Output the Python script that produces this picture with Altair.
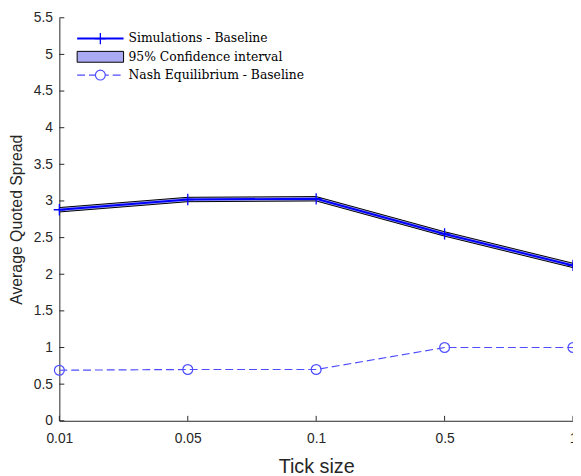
import altair as alt
import pandas as pd

ticks = ["0.01", "0.05", "0.1", "0.5", "1"]
sim_mean = [2.88, 3.02, 3.03, 2.55, 2.12]
sim_lower = [2.85, 2.99, 3.00, 2.52, 2.09]
sim_upper = [2.91, 3.05, 3.06, 2.58, 2.15]
nash = [0.69, 0.70, 0.70, 1.00, 1.00]
y_ticks = [0, 0.5, 1, 1.5, 2, 2.5, 3, 3.5, 4, 4.5, 5, 5.5]

legend_labels = ["Simulations - Baseline", "95% Confidence interval", "Nash Equilibrium - Baseline"]

df = pd.DataFrame({"tick": ticks, "mean": sim_mean, "lo": sim_lower, "hi": sim_upper, "nash": nash})
ydf = pd.DataFrame({"v": y_ticks})
leg = pd.DataFrame({"label": legend_labels, "row": [0, 1, 2]})

W, H = 520, 408
BLUE = "#0000ff"
NASH = "#4d4dff"
AX = "#262626"
PLUS = "M-1,0L1,0M0,-1L0,1"

ydom = alt.Scale(domain=[0, 5.5], nice=False, zero=False)
yaxis = alt.Axis(title="Average Quoted Spread", values=y_ticks, format="~g", labelOverlap=False,
                 ticks=False, grid=False, labelPadding=7, titlePadding=9, titleFontSize=16,
                 titleFontWeight="normal", labelFontSize=14, domainColor=AX,
                 labelColor=AX, titleColor=AX)
xaxis = alt.Axis(title="Tick size", labelAngle=0, ticks=False, labelPadding=11,
                 titleY=52, titleBaseline="alphabetic", titleFontSize=20, titleFontWeight="normal",
                 labelFontSize=14, domainColor=AX, labelColor=AX, titleColor=AX)
xscale = alt.Scale(type="point", padding=0)


def X():
    return alt.X("tick:O", sort=ticks, scale=xscale, axis=xaxis)


def Y(field):
    return alt.Y(field, scale=ydom, axis=yaxis)


base = alt.Chart(df)

band = base.mark_area(fill="#aaaaf2", stroke="black", strokeWidth=1).encode(x=X(), y=Y("lo:Q"), y2="hi:Q")
sim_line = base.mark_line(color=BLUE, strokeWidth=2).encode(x=X(), y=Y("mean:Q"))
sim_pts = base.mark_point(shape=PLUS, color=BLUE, size=130, strokeWidth=1.3, filled=False,
                          opacity=1).encode(x=X(), y=Y("mean:Q"))
nash_line = base.mark_line(color=NASH, strokeWidth=1.2, strokeDash=[8, 4]).encode(x=X(), y=Y("nash:Q"))
nash_pts = base.mark_point(shape="circle", color=NASH, size=100, strokeWidth=1.2, filled=False,
                           opacity=1).encode(x=X(), y=Y("nash:Q"))

ytick_rules = alt.Chart(ydf).mark_rule(color=AX, strokeWidth=1).encode(
    y=Y("v:Q"), x=alt.value(0), x2=alt.value(5))
xtick_rules = base.mark_rule(color=AX, strokeWidth=1).encode(
    x=X(), y=alt.value(H), y2=alt.value(H - 5))

# Legend (manually drawn, no border)
lx0, lx1, ly0, dy = 18, 65, 21, 18.5
leg1_line = alt.Chart(leg.iloc[[0]]).mark_rule(color=BLUE, strokeWidth=2).encode(
    x=alt.value(lx0), x2=alt.value(lx1), y=alt.value(ly0))
leg1_pt = alt.Chart(leg.iloc[[0]]).mark_point(shape=PLUS, color=BLUE, size=130, strokeWidth=1.3,
                                              opacity=1).encode(
    x=alt.value((lx0 + lx1) / 2), y=alt.value(ly0))
leg2_rect = alt.Chart(leg.iloc[[1]]).mark_rect(fill="#aaaaf2", stroke="black", strokeWidth=1).encode(
    x=alt.value(lx0), x2=alt.value(lx1), y=alt.value(ly0 + dy - 5.5), y2=alt.value(ly0 + dy + 5.5))
leg3_line = alt.Chart(leg.iloc[[2]]).mark_rule(color=NASH, strokeWidth=1.2, strokeDash=[8, 4]).encode(
    x=alt.value(lx0), x2=alt.value(lx1), y=alt.value(ly0 + 2 * dy))
leg3_pt = alt.Chart(leg.iloc[[2]]).mark_point(shape="circle", stroke=NASH, fill="white", filled=True,
                                              size=100, strokeWidth=1.2, opacity=1).encode(
    x=alt.value((lx0 + lx1) / 2), y=alt.value(ly0 + 2 * dy))
leg_text = alt.Chart(leg).transform_calculate(py=f"{ly0} + datum.row * {dy}").mark_text(
    align="left", baseline="middle", font="DejaVu Serif", fontSize=12.5,
    color="black").encode(
    x=alt.value(lx1 + 5), y=alt.Y("py:Q", scale=None, axis=None), text="label:N")

chart = alt.layer(
    band, sim_line, sim_pts, nash_line, nash_pts, ytick_rules, xtick_rules,
    leg1_line, leg1_pt, leg2_rect, leg3_line, leg3_pt, leg_text,
).properties(width=W, height=H, autosize=alt.AutoSizeParams(type="none"),
             padding={"left": 52, "top": 7, "right": 0, "bottom": 53}
).configure_view(stroke=None).configure_axis(labelFont="Liberation Sans", titleFont="Liberation Sans")

chart.save("out.html", embed_options={"renderer": "svg", "actions": False})
